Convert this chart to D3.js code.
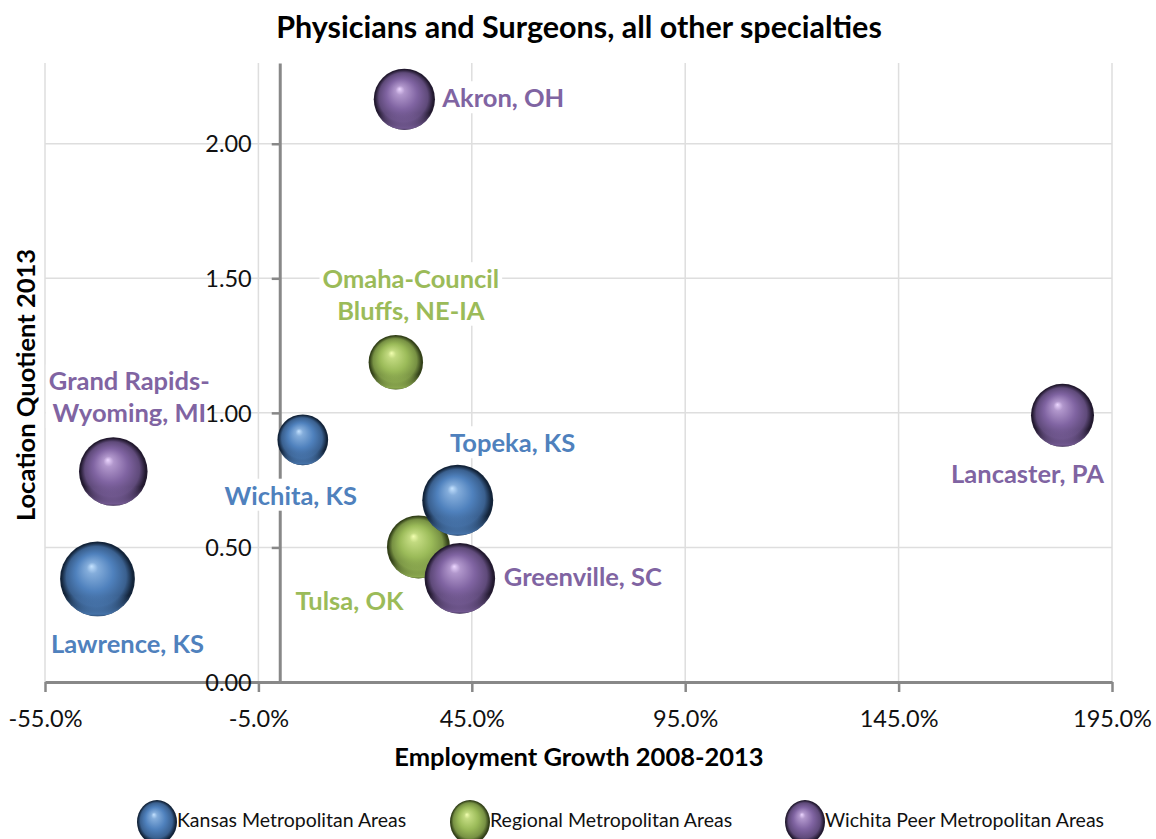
<!DOCTYPE html>
<html>
<head>
<meta charset="utf-8">
<script src="https://cdn.jsdelivr.net/npm/d3@7"></script>
<style>
  html, body { margin: 0; padding: 0; background: #fff; }
  svg { display: block; font-family: Lato, sans-serif; }
</style>
</head>
<body>
<div id="chart"></div>
<script>
// data
const seriesNames = ['Kansas Metropolitan Areas', 'Regional Metropolitan Areas', 'Wichita Peer Metropolitan Areas'];
const metroNames = ['Wichita, KS', 'Topeka, KS', 'Lawrence, KS', 'Omaha-Council Bluffs, NE-IA', 'Tulsa, OK',
  'Akron, OH', 'Grand Rapids-Wyoming, MI', 'Greenville, SC', 'Lancaster, PA'];
const metroSeries = [0, 0, 0, 1, 1, 2, 2, 2, 2];
const employmentGrowth = [5.4, 41.7, -42.7, 27.2, 32.5, 29.2, -39.0, 42.2, 183.4]; // percent, 2008-2013
const locationQuotient = [0.90, 0.675, 0.383, 1.188, 0.502, 2.165, 0.782, 0.385, 0.991];
const bubbleSize = [46, 90, 100, 53, 71, 67, 84, 89, 71];
const xTicks = [-55, -5, 45, 95, 145, 195];
const yTicks = [0, 0.5, 1.0, 1.5, 2.0];

// layout of labels relative to the bubble centre (pixels)
const labelPlacement = {
  'Wichita, KS': { lines: ['Wichita, KS'], dx: -12, dy: 56, anchor: 'middle' },
  'Topeka, KS': { lines: ['Topeka, KS'], dx: 55, dy: -57, anchor: 'middle' },
  'Lawrence, KS': { lines: ['Lawrence, KS'], dx: 30, dy: 65, anchor: 'middle' },
  'Omaha-Council Bluffs, NE-IA': { lines: ['Omaha-Council', 'Bluffs, NE-IA'], dx: 15, dy: -83, anchor: 'middle' },
  'Tulsa, OK': { lines: ['Tulsa, OK'], dx: -69, dy: 54, anchor: 'middle' },
  'Akron, OH': { lines: ['Akron, OH'], dx: 38, dy: -1, anchor: 'start' },
  'Grand Rapids-Wyoming, MI': { lines: ['Grand Rapids-', 'Wyoming, MI'], dx: 16, dy: -90, anchor: 'middle' },
  'Greenville, SC': { lines: ['Greenville, SC'], dx: 44, dy: -1, anchor: 'start' },
  'Lancaster, PA': { lines: ['Lancaster, PA'], dx: -35, dy: 59, anchor: 'middle' }
};

const colors = ['#4F81BD', '#9BBB59', '#8064A2'];
const lights = ['#c4e2ff', '#f2ffb0', '#ecd6ff'];
const darks = ['#13243a', '#34421a', '#231a30'];
const drawOrder = [1, 0, 2]; // regional, kansas, peers

const width = 1156;
const height = 839;

const svg = d3.select('#chart').append('svg')
  .attr('width', width)
  .attr('height', height);

const x = d3.scaleLinear().domain([-55, 195]).range([45, 1112]);
const y = d3.scaleLinear().domain([0, 2.3]).range([682, 63]);
const r = d3.scaleSqrt().domain([0, d3.max(bubbleSize)]).range([0, 37.4]);

// gradients for the sphere look
const defs = svg.append('defs');
colors.forEach((c, i) => {
  const g = defs.append('radialGradient').attr('id', 'ball' + i)
    .attr('cx', 0.5).attr('cy', 0.5).attr('r', 0.5).attr('fx', 0.42).attr('fy', 0.33);
  g.append('stop').attr('offset', 0).attr('stop-color', lights[i]);
  g.append('stop').attr('offset', 0.15).attr('stop-color', d3.interpolateRgb(lights[i], c)(0.55));
  g.append('stop').attr('offset', 0.5).attr('stop-color', c);
  g.append('stop').attr('offset', 0.8).attr('stop-color', d3.interpolateRgb(c, darks[i])(0.35));
  g.append('stop').attr('offset', 0.95).attr('stop-color', darks[i]);
  g.append('stop').attr('offset', 1).attr('stop-color', darks[i]);

  const rim = defs.append('linearGradient').attr('id', 'rim' + i)
    .attr('x1', 0).attr('y1', 0).attr('x2', 0).attr('y2', 1);
  rim.append('stop').attr('offset', 0.72).attr('stop-color', c).attr('stop-opacity', 0);
  rim.append('stop').attr('offset', 0.97).attr('stop-color', c).attr('stop-opacity', 0.85);
  rim.append('stop').attr('offset', 1).attr('stop-color', c).attr('stop-opacity', 0.5);
});

// gridlines
const grid = svg.append('g').attr('class', 'grid')
  .attr('stroke', '#dedede').attr('stroke-width', 1.5);
grid.selectAll('.hgrid').data(yTicks.filter(d => d > 0)).enter().append('line')
  .attr('x1', x.range()[0]).attr('x2', x.range()[1])
  .attr('y1', d => y(d)).attr('y2', d => y(d));
grid.selectAll('.vgrid').data(xTicks).enter().append('line')
  .attr('x1', d => x(d)).attr('x2', d => x(d))
  .attr('y1', y.range()[1]).attr('y2', y.range()[0]);

// axes lines (labels drawn later, on top)
const xAxis = d3.axisBottom(x).tickValues(xTicks).tickFormat(d => d.toFixed(1) + '%').tickSize(10).tickSizeOuter(0);
const yAxis = d3.axisLeft(y).tickValues(yTicks).tickFormat(d3.format('.2f')).tickSize(8).tickSizeOuter(0);

function styleAxisLines(g) {
  g.selectAll('text').remove();
  g.select('.domain').attr('stroke', '#888').attr('stroke-width', 3);
  g.selectAll('.tick line').attr('stroke', '#888').attr('stroke-width', 2.5);
}
svg.append('g').attr('transform', `translate(0,${y(0)})`).call(xAxis).call(styleAxisLines);
svg.append('g').attr('transform', `translate(${x(0)},0)`).call(yAxis).call(styleAxisLines);

// bubbles
const metros = metroNames.map((name, i) => ({
  name, series: metroSeries[i], growth: employmentGrowth[i], lq: locationQuotient[i], size: bubbleSize[i]
}));
const ordered = drawOrder.flatMap(s => metros.filter(m => m.series === s));

const bubbles = svg.append('g').selectAll('.bubble')
  .data(ordered)
  .enter().append('g')
    .attr('class', 'bubble')
    .attr('transform', d => `translate(${x(d.growth)},${y(d.lq)})`);
bubbles.append('circle')
  .attr('r', d => r(d.size))
  .attr('fill', d => `url(#ball${d.series})`);
bubbles.append('circle')
  .attr('r', d => r(d.size))
  .attr('fill', d => `url(#rim${d.series})`);

// data labels with white boxes
const labels = svg.append('g').selectAll('.label')
  .data(metros)
  .enter().append('g')
    .attr('class', 'label')
    .attr('transform', d => {
      const p = labelPlacement[d.name];
      return `translate(${x(d.growth) + p.dx},${y(d.lq) + p.dy})`;
    });
labels.each(function (d) {
  const p = labelPlacement[d.name];
  const g = d3.select(this);
  const lineH = 31.5;
  p.lines.forEach((t, k) => {
    g.append('text')
      .attr('text-anchor', p.anchor)
      .attr('y', k * lineH)
      .attr('dy', '0.35em')
      .attr('font-size', 25.5)
      .attr('font-weight', 700)
      .attr('fill', colors[d.series])
      .text(t);
  });
  const b = this.getBBox();
  g.insert('rect', 'text')
    .attr('x', b.x - 3).attr('y', b.y - 1)
    .attr('width', b.width + 6).attr('height', b.height + 2)
    .attr('fill', '#fff');
});

// axis tick labels
function styleAxisText(g, dxText, dyText, anchor) {
  g.select('.domain').remove();
  g.selectAll('.tick line').remove();
  g.selectAll('.tick text')
    .attr('font-size', 23.5)
    .attr('font-family', 'Lato, sans-serif')
    .attr('fill', '#111')
    .attr('text-anchor', anchor)
    .attr('x', dxText).attr('y', dyText).attr('dy', '0.35em');
}
svg.append('g').attr('transform', `translate(0,${y(0)})`).call(xAxis)
  .call(g => styleAxisText(g, 0, 37, 'middle'));
svg.append('g').attr('transform', `translate(${x(0)},0)`).call(yAxis)
  .call(g => styleAxisText(g, -28, 0, 'end'));

// titles
svg.append('text')
  .attr('x', 579).attr('y', 27).attr('dy', '0.35em')
  .attr('text-anchor', 'middle')
  .attr('font-size', 30.5).attr('font-weight', 700).attr('fill', '#000')
  .text('Physicians and Surgeons, all other specialties');

svg.append('text')
  .attr('x', 579).attr('y', 757).attr('dy', '0.35em')
  .attr('text-anchor', 'middle')
  .attr('font-size', 25.5).attr('font-weight', 700).attr('fill', '#000')
  .text('Employment Growth 2008-2013');

svg.append('text')
  .attr('transform', 'translate(26,385) rotate(-90)')
  .attr('dy', '0.35em')
  .attr('text-anchor', 'middle')
  .attr('font-size', 25.5).attr('font-weight', 700).attr('fill', '#000')
  .text('Location Quotient 2013');

// legend
const legendX = [137, 450, 785];
const legend = svg.append('g').selectAll('.legend')
  .data(seriesNames)
  .enter().append('g')
    .attr('class', 'legend')
    .attr('transform', (d, i) => `translate(${legendX[i]},820)`);
legend.append('ellipse')
  .attr('cx', 20).attr('cy', 2)
  .attr('rx', 20).attr('ry', 22)
  .attr('fill', (d, i) => `url(#ball${i})`);
legend.append('text')
  .attr('x', 40).attr('y', 0).attr('dy', '0.35em')
  .attr('font-size', 19.5).attr('fill', '#111')
  .text(d => d);
</script>
</body>
</html>
